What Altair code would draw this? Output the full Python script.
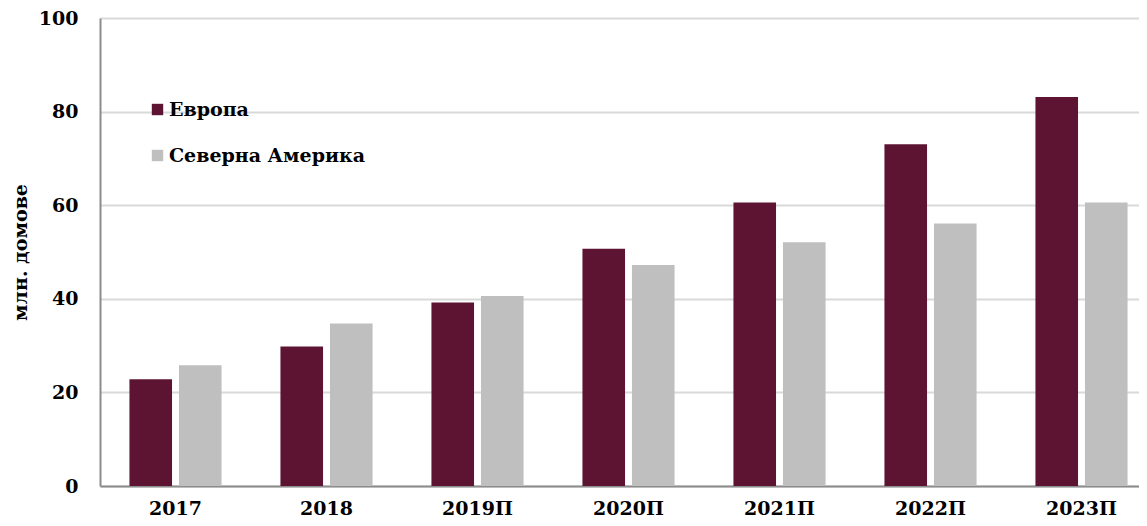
import altair as alt
import pandas as pd

years = ["2017", "2018", "2019П", "2020П", "2021П", "2022П", "2023П"]
europe = [22.8, 29.8, 39.2, 50.7, 60.6, 73.0, 83.1]
north_america = [25.8, 34.7, 40.6, 47.2, 52.1, 56.1, 60.6]
series = ["Европа", "Северна Америка"]
colors = ["#5c1432", "#bfbfbf"]
y_ticks = [0, 20, 40, 60, 80, 100]

rows = []
for i, y in enumerate(years):
    rows.append({"year": y, "series": series[0], "value": europe[i]})
    rows.append({"year": y, "series": series[1], "value": north_america[i]})
df = pd.DataFrame(rows)

FONT = "DejaVu Serif"

chart = alt.Chart(df).mark_bar().encode(
    x=alt.X("year:N", sort=years,
            scale=alt.Scale(paddingInner=0.39, paddingOuter=0.195, range=[0, 1057]),
            axis=alt.Axis(title=None, labelAngle=0, labelFont=FONT, labelFontSize=19,
                          labelFontWeight="bold", labelColor="#000000", labelPadding=13,
                          ticks=False, domainColor="#8c8c8c", domainWidth=2)),
    xOffset=alt.XOffset("series:N", sort=series,
                        scale=alt.Scale(paddingInner=0.14)),
    y=alt.Y("value:Q", scale=alt.Scale(domain=[0, 100], nice=False),
            axis=alt.Axis(values=y_ticks, title="млн. домове", titleFont=FONT,
                          titleFontSize=19, titleFontWeight="bold", titleColor="#000000",
                          titleX=-80, titleY=234, titleAngle=270, titleAlign="center",
                          titleBaseline="middle",
                          labelFont=FONT, labelFontSize=19, labelFontWeight="bold",
                          labelColor="#000000", labelPadding=22, ticks=False,
                          domainColor="#8c8c8c", domainWidth=2,
                          gridColor="#d9d9d9", gridWidth=2)),
    color=alt.Color("series:N", sort=series,
                    scale=alt.Scale(domain=series, range=colors),
                    legend=alt.Legend(title=None, orient="none", legendX=48, legendY=82,
                                      symbolType="square", symbolSize=130,
                                      symbolStrokeWidth=0, labelFont=FONT,
                                      labelFontSize=19, labelFontWeight="bold",
                                      labelColor="#000000", rowPadding=26,
                                      labelOffset=2, labelLimit=400, padding=0)),
).properties(
    width=1039, height=468,
    autosize=alt.AutoSizeParams(type="none"),
    padding={"left": 92, "top": 10, "right": 0, "bottom": 32},
).configure_view(stroke=None)

chart.save("out.html", embed_options={"renderer": "svg", "actions": False})
